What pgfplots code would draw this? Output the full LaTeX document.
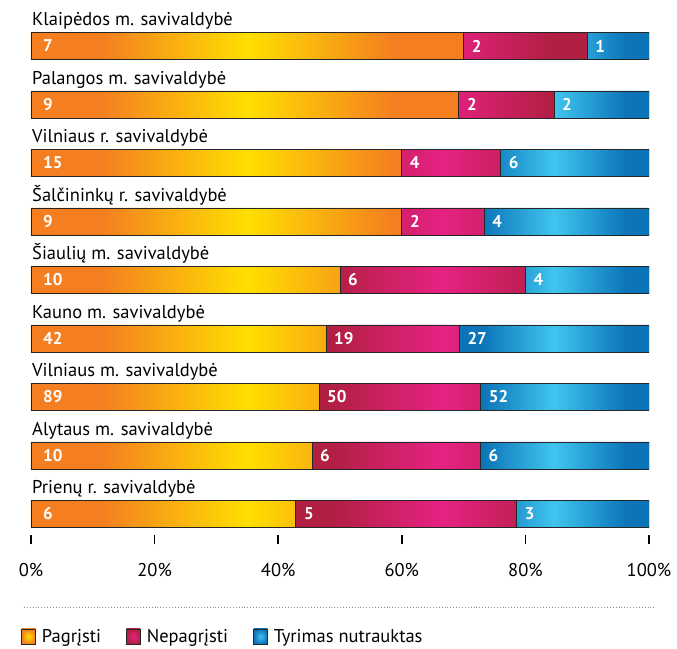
\documentclass[border=0pt]{standalone}
\usepackage{pgfplots}
\usepackage{pgfplotstable}
\usepackage{fontspec}
\setmainfont{PT Sans}
\pgfplotsset{compat=1.18}

\definecolor{orEdge}{HTML}{F47E20}
\definecolor{orMid}{HTML}{FFDF00}
\definecolor{pkEdge}{HTML}{B11F42}
\definecolor{pkMid}{HTML}{E62283}
\definecolor{blEdge}{HTML}{0C74B8}
\definecolor{blMid}{HTML}{40C5EF}
\definecolor{barInk}{HTML}{262626}

% horizontal shadings: 25bp..75bp is the bar itself
\pgfdeclarehorizontalshading{orShade}{100bp}{color(0bp)=(orEdge); color(33bp)=(orEdge); color(50bp)=(orMid); color(67bp)=(orEdge); color(100bp)=(orEdge)}
\pgfdeclarehorizontalshading{pkShade}{100bp}{color(0bp)=(pkEdge); color(31bp)=(pkEdge); color(50bp)=(pkMid); color(69bp)=(pkEdge); color(100bp)=(pkEdge)}
\pgfdeclarehorizontalshading{blShade}{100bp}{color(0bp)=(blEdge); color(31bp)=(blEdge); color(50bp)=(blMid); color(69bp)=(blEdge); color(100bp)=(blEdge)}

\newcommand{\lab}{\fontsize{18.5}{22}\selectfont}
\newcommand{\num}{\fontsize{17}{20}\selectfont\bfseries}

% counts per municipality: a = Pagrįsti, b = Nepagrįsti, c = Tyrimas nutrauktas
\pgfplotstableread{
y a b c
1 7 2 1
2 9 2 2
3 15 4 6
4 9 2 4
5 10 6 4
6 42 19 27
7 89 50 52
8 10 6 6
9 6 5 3
}\counts

\pgfplotsset{
  frame/.style={
    scale only axis,
    width=618pt, height=525pt,
    xmin=0, xmax=100,
    ymin=0.385, ymax=9.36,
    y dir=reverse,
    at={(0pt,0pt)}, anchor=south west
  },
  seg/.style n args={3}{
    xbar, shade, shading=#1,
    draw=barInk, line width=0.8pt,
    legend image code/.code={
      \shade[inner color=#3, outer color=#2] (0pt,-7.5pt) rectangle (14pt,7.5pt);
    }
  },
  numlab/.style={
    every node near coord/.append style={
      anchor=west, xshift=#1, text=white, inner sep=0pt, font=\num
    }
  }
}

\begin{document}
\begin{tikzpicture}
\useasboundingbox (-31pt,-113pt) rectangle (646pt,535pt);

\begin{axis}[
  frame,
  xbar stacked,
  bar width=27pt,
  axis x line*=bottom,
  axis y line=none,
  axis line style={draw=none},
  xtick={0,20,40,60,80,100},
  xticklabels={0\%,20\%,40\%,60\%,80\%,100\%},
  ytick=\empty,
  tick align=outside,
  major tick length=9pt,
  major tick style={black, line width=1.6pt},
  ticklabel style={font=\lab},
  xticklabel style={yshift=-16pt},
  legend columns=3,
  legend style={
    at={(-0.0162,-0.1933)}, anchor=west,
    draw=none, fill=none, font=\lab, inner sep=0pt,
    cells={anchor=west},
    /tikz/every odd column/.append style={column sep=4pt},
    /tikz/every even column/.append style={column sep=23pt}
  }
]
\addplot[seg={orShade}{orEdge}{orMid}] table[x expr={100*\thisrow{a}/(\thisrow{a}+\thisrow{b}+\thisrow{c})}, y=y]{\counts};
\addplot[seg={pkShade}{pkEdge}{pkMid}] table[x expr={100*\thisrow{b}/(\thisrow{a}+\thisrow{b}+\thisrow{c})}, y=y]{\counts};
\addplot[seg={blShade}{blEdge}{blMid}] table[x expr={100*\thisrow{c}/(\thisrow{a}+\thisrow{b}+\thisrow{c})}, y=y]{\counts};
\legend{Pagrįsti, Nepagrįsti, Tyrimas nutrauktas}
\end{axis}

\begin{axis}[
  frame,
  hide axis,
  clip=false,
  point meta=explicit symbolic,
  nodes near coords
]
\addplot[draw=none, numlab=12pt] table[x expr=0, y=y, meta=a]{\counts};
\addplot[draw=none, numlab=8pt] table[x expr={100*\thisrow{a}/(\thisrow{a}+\thisrow{b}+\thisrow{c})}, y=y, meta=b]{\counts};
\addplot[draw=none, numlab=8pt] table[x expr={100*(\thisrow{a}+\thisrow{b})/(\thisrow{a}+\thisrow{b}+\thisrow{c})}, y=y, meta=c]{\counts};
\addplot[draw=none, every node near coord/.append style={anchor=base west, xshift=1pt, yshift=20pt, inner sep=0pt, text=black, font=\lab}] coordinates {
  (0,1) [Klaipėdos m. savivaldybė]
  (0,2) [Palangos m. savivaldybė]
  (0,3) [Vilniaus r. savivaldybė]
  (0,4) [Šalčininkų r. savivaldybė]
  (0,5) [Šiaulių m. savivaldybė]
  (0,6) [Kauno m. savivaldybė]
  (0,7) [Vilniaus m. savivaldybė]
  (0,8) [Alytaus m. savivaldybė]
  (0,9) [Prienų r. savivaldybė]
};
\end{axis}

\draw[black!45, dotted, line width=0.9pt] (-7pt,-72pt) -- (625pt,-72pt);
\end{tikzpicture}
\end{document}
